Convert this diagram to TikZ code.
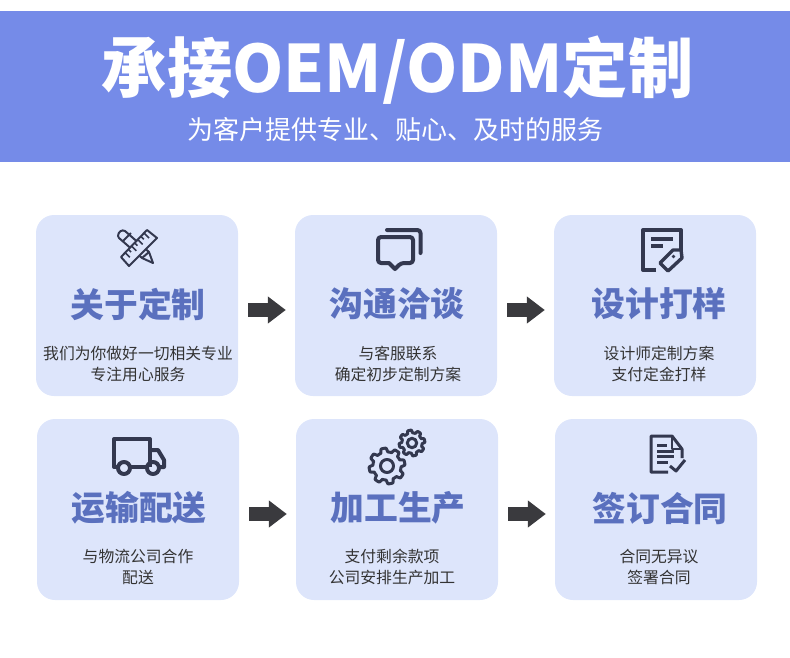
\documentclass[tikz,border=0pt]{standalone}
\usepackage{fontspec}
\setmainfont{Noto Sans CJK SC}
\usepackage{xcolor}
\usetikzlibrary{arrows.meta,calc}
\definecolor{bandBlue}{HTML}{758BE8}
\definecolor{cardBlue}{HTML}{DDE5FB}
\definecolor{headBlue}{HTML}{5A70BE}
\definecolor{iconInk}{HTML}{33384F}
\definecolor{bodyInk}{HTML}{333333}
\definecolor{arrowInk}{HTML}{3A3A3E}

\newcommand{\gearicon}[4]{%
  \draw[icon, line width=3pt] plot[domain=0:360, samples=193]
    ({#1+(#3-0.12*#3*min(1,max(-1,2.4*sin(8*\x))))*cos(\x)},
     {#2+(#3-0.12*#3*min(1,max(-1,2.4*sin(8*\x))))*sin(\x)}) -- cycle;
  \draw[icon, line width=3pt] (#1,#2) circle[radius=#4];
}

\begin{document}
\begin{tikzpicture}[
  x=1pt, y=-1pt,
  card/.style={fill=cardBlue, rounded corners=18pt, minimum width=202pt,
               minimum height=181pt, inner sep=0pt},
  head/.style={font=\fontsize{33.8}{38}\selectfont\bfseries, text=headBlue, inner sep=0pt},
  body/.style={font=\fontsize{15.8}{21}\selectfont, text=bodyInk, align=center, inner sep=0pt},
  flow/.style={-{Triangle[length=18pt, width=26pt]}, arrowInk, line width=14pt},
  icon/.style={draw=iconInk, line width=4pt, line join=round},
  thinicon/.style={icon, line width=2pt},
]
\useasboundingbox (0,0) rectangle (790,657);

% --- title band
\fill[bandBlue] (0,11) rectangle (790,162);
\node[font=\fontsize{65.3}{70}\selectfont\bfseries, text=white, inner sep=0pt] (title) at (397.5,70) {承接OEM/ODM定制};
\node[font=\fontsize{26}{30}\selectfont, text=white, inner sep=0pt] (subtitle) at (395.5,129.5) {为客户提供专业、贴心、及时的服务};

% --- the top row
\node[card] (about) at (137,305.5) {};
\node[card] (talk) at (396,305.5) {};
\node[card] (design) at (655,305.5) {};

\node[head] (aboutH) at (138,304) {关于定制};
\node[head] (talkH) at (397,304) {沟通洽谈};
\node[head] (designH) at (659,304) {设计打样};

\node[body] (aboutB) at (138,364) {我们为你做好一切相关专业\\专注用心服务};
\node[body] (talkB) at (398,364) {与客服联系\\确定初步定制方案};
\node[body] (designB) at (659,364) {设计师定制方案\\支付定金打样};

% --- the bottom row
\node[card] (ship) at (138,509.5) {};
\node[card] (make) at (397,509.5) {};
\node[card] (sign) at (656,509.5) {};

\node[head] (shipH) at (139,508) {运输配送};
\node[head] (makeH) at (398,508) {加工生产};
\node[head] (signH) at (660,508) {签订合同};

\node[body] (shipB) at (138,567) {与物流公司合作\\配送};
\node[body] (makeB) at (392,567) {支付剩余款项\\公司安排生产加工};
\node[body] (signB) at (659,567) {合同无异议\\签署合同};

% --- arrows between the cards
\draw[flow, shorten <=10pt, shorten >=9pt] ([yshift=-4.5pt]about.east) -- ([yshift=-4.5pt]talk.west);
\draw[flow, shorten <=10pt, shorten >=9pt] ([yshift=-4.5pt]talk.east) -- ([yshift=-4.5pt]design.west);
\draw[flow, shorten <=10pt, shorten >=9pt] ([yshift=-4.5pt]ship.east) -- ([yshift=-4.5pt]make.west);
\draw[flow, shorten <=10pt, shorten >=9pt] ([yshift=-4.5pt]make.east) -- ([yshift=-4.5pt]sign.west);

% --- pencil, with the ruler over it
\draw[thinicon] (118,236) .. controls (118,232) and (122,229) .. (125,231)
  -- (149,252) -- (153,263) -- (142,258) -- (119,238) -- cycle;
\draw[thinicon] (123,241) -- (131,233);
\draw[thinicon] (142,258) -- (149,252);
\draw[thinicon, fill=cardBlue] (147,230) -- (157,238) -- (129,266) -- (121,257) -- cycle;
\foreach \t/\l in {0/5,1/3,2/5,3/3,4/5,5/3,6/5}
  \draw[thinicon, line width=1.6pt] ($(144,233)+(-\t*3.2,\t*3.2)$) -- ++(\l,\l);

% --- chat bubbles
\draw[icon, rounded corners=3pt, line cap=round] (387,230) -- (420.5,230) -- (420.5,253);
\draw[icon, rounded corners=3pt] (378,237) -- (413,237) -- (413,263) -- (401,263)
  [sharp corners] -- (395,269) -- (389,263) [rounded corners=3pt] -- (378,263) -- cycle;

% --- sheet with a tag
\draw[icon] (656,270) -- (643,270) -- (643,230) -- (681,230) -- (681,250);
\draw[icon, line width=3.2pt] (651,239) -- (673,239);
\draw[icon, line width=3.2pt] (651,246) -- (663,246);
\draw[icon, line width=3.4pt, fill=cardBlue] (660,263) -- (673,250) -- (681,250) -- (682,258) -- (668,271) -- cycle;
\fill[iconInk] (673.5,256.5) circle[radius=1.8];

% --- truck
\draw[icon] (118,467) -- (114,467) -- (114,439) -- (150,439) -- (150,467);
\draw[icon] (130,467) -- (147,467);
\draw[icon] (150,450) -- (158,450) -- (164,460) -- (164,467) -- (159,467);
\draw[icon] (124,468) circle[radius=6];
\draw[icon] (153,468) circle[radius=6];

% --- gears
\gearicon{387}{466}{16}{6.5}
\gearicon{412}{443}{11.5}{4.7}

% --- signed sheet
\draw[icon, line width=3pt] (668,472) -- (651,472) -- (651,436) -- (672,436) -- (682,449) -- (682,458);
\draw[icon, line width=2.4pt] (672,436) -- (672,449) -- (682,449);
\draw[icon, line width=3pt] (657,445) -- (667,445);
\draw[icon, line width=3pt] (657,451) -- (674,451);
\draw[icon, line width=3pt] (657,456.5) -- (674,456.5);
\draw[icon, line width=3pt] (657,462) -- (668,462);
\draw[icon, line width=3pt] (670,466) -- (676,471) -- (685,460);
\end{tikzpicture}
\end{document}
